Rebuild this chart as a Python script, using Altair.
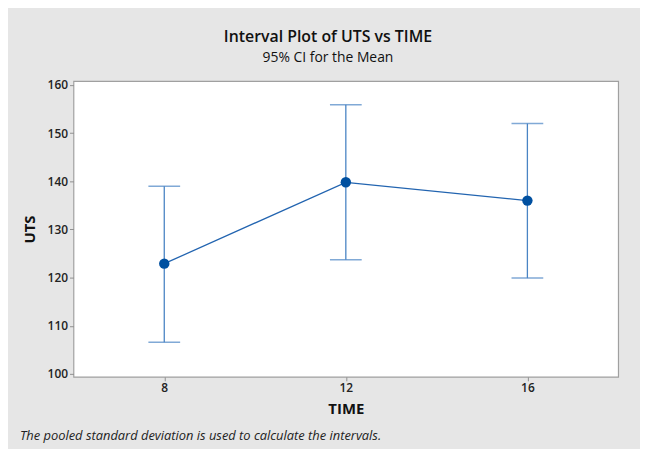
import altair as alt
import pandas as pd

TIME = ["8", "12", "16"]
MEAN = [122.9, 139.8, 136.0]
LOWER = [106.6, 123.7, 119.9]
UPPER = [139.0, 155.9, 152.0]
Y_TICKS = [100, 110, 120, 130, 140, 150, 160]
TITLE = "Interval Plot of UTS vs TIME"
SUBTITLE = "95% CI for the Mean"
FOOTNOTE = "The pooled standard deviation is used to calculate the intervals."

df = pd.DataFrame({"TIME": TIME, "MEAN": MEAN, "LOWER": LOWER, "UPPER": UPPER})
FONT = "Open Sans"

x = alt.X("TIME:O", sort=TIME, scale=alt.Scale(type="point", padding=0.5),
          axis=alt.Axis(title="TIME", labelAngle=0, titlePadding=8))
y_scale = alt.Scale(domain=[99.4, 160.8], nice=False, zero=False)

base = alt.Chart(df)

rules = base.mark_rule(color="#4a84c4", strokeWidth=1.3).encode(
    x=x,
    y=alt.Y("LOWER:Q", scale=y_scale,
            axis=alt.Axis(title="UTS", values=Y_TICKS, titlePadding=10)),
    y2="UPPER:Q",
)
cap_lo = base.mark_tick(color="#4a84c4", size=32, thickness=1.5).encode(
    x=x, y=alt.Y("LOWER:Q", scale=y_scale))
cap_hi = base.mark_tick(color="#4a84c4", size=32, thickness=1.5).encode(
    x=x, y=alt.Y("UPPER:Q", scale=y_scale))
line = base.mark_line(color="#2264b0", strokeWidth=1.3).encode(
    x=x, y=alt.Y("MEAN:Q", scale=y_scale))
points = base.mark_point(filled=True, color="#0050a0", size=110, opacity=1).encode(
    x=x, y=alt.Y("MEAN:Q", scale=y_scale))

foot = alt.Chart(pd.DataFrame({"t": [FOOTNOTE]})).mark_text(
    align="left", baseline="middle", fontStyle="italic", fontSize=13,
    font=FONT, color="#222222"
).encode(text="t:N", x=alt.value(-54), y=alt.value(358))

chart = alt.layer(rules, cap_lo, cap_hi, line, points, foot).properties(
    width=549,
    height=298,
    title=alt.Title(TITLE, subtitle=SUBTITLE, anchor="middle", dx=-18,
                    font=FONT, fontSize=16, fontWeight=600, color="#111111",
                    subtitleFont=FONT, subtitleFontSize=14, subtitleFontWeight=500,
                    subtitleColor="#111111",
                    subtitlePadding=6, offset=14),
    background="#e6e6e6",
    padding={"left": 66, "top": 72, "right": 22, "bottom": 71},
    autosize=alt.AutoSizeParams(type="none"),
).configure_view(
    stroke="#a0a0a0", strokeWidth=1.2, fill="white"
).configure_axis(
    domain=False, grid=False, tickColor="#909090", tickSize=4,
    labelFont=FONT, labelFontSize=12, labelFontWeight=600, labelColor="#222222",
    titleFont=FONT, titleFontSize=15, titleFontWeight="bold", titleColor="#111111",
)

chart.save("out.html", embed_options={"renderer": "svg", "actions": False})
